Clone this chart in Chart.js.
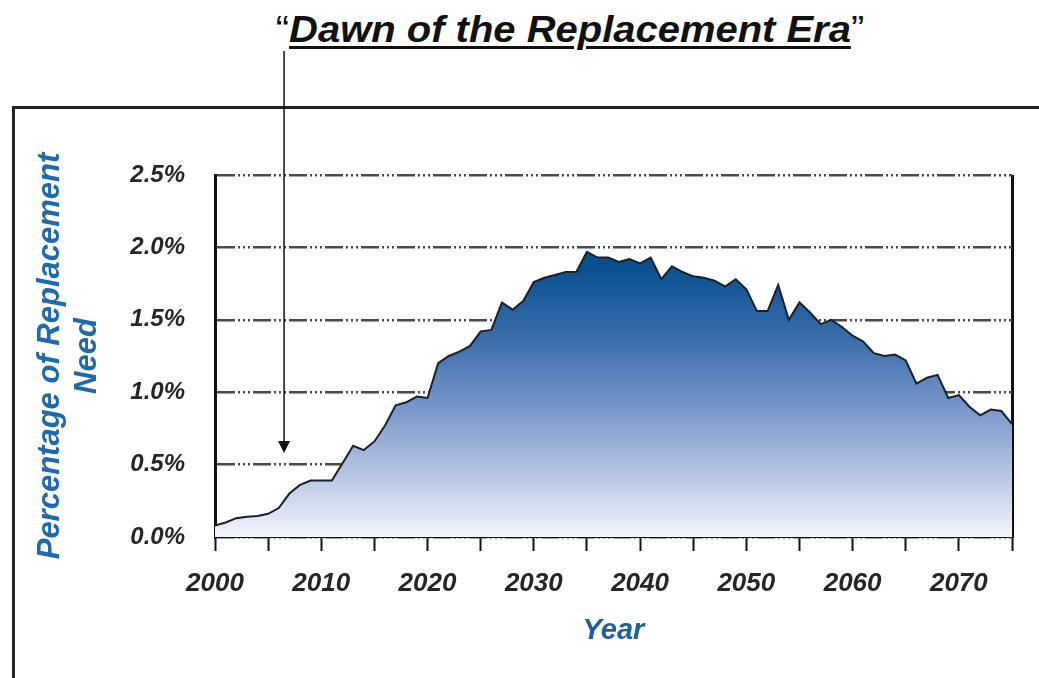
<!DOCTYPE html>
<html lang="en">
<head>
  <meta charset="UTF-8">
  <title>Dawn of the Replacement Era</title>
  <script src="https://cdn.jsdelivr.net/npm/chart.js"></script>
  <style>
    body {
      margin: 0;
      background: #ffffff;
      font-family: 'Liberation Sans', Arial, sans-serif;
    }
    .wrap {
      position: relative;
      width: 1039px;
      height: 678px;
      overflow: hidden;
    }
    .frame {
      position: absolute;
      left: 12px;
      top: 106px;
      width: 1100px;
      height: 700px;
      border-left: 3px solid #222;
      border-top: 3px solid #222;
    }
    .headline {
      position: absolute;
      top: 9px;
      left: 0;
      width: 1140px;
      text-align: center;
      font-size: 37px;
      font-style: italic;
      font-weight: bold;
      color: #111;
      transform: scaleX(1.08);
    }
    .headline u {
      text-decoration-thickness: 3px;
      text-underline-offset: 4px;
    }
    .headline .q {
      font-style: normal;
      font-weight: normal;
    }
    canvas {
      position: absolute;
      left: 0;
      top: 0;
    }
  </style>
</head>
<body>
  <div class="wrap">
    <div class="frame"></div>
    <div class="headline"><span class="q">“</span><u>Dawn of the Replacement Era</u><span class="q">”</span></div>
    <canvas id="replacement" width="1039" height="678"></canvas>
  </div>

  <script>
    const years = [
      2000, 2001, 2002, 2003, 2004, 2005, 2006, 2007, 2008, 2009,
      2010, 2011, 2012, 2013, 2014, 2015, 2016, 2017, 2018, 2019,
      2020, 2021, 2022, 2023, 2024, 2025, 2026, 2027, 2028, 2029,
      2030, 2031, 2032, 2033, 2034, 2035, 2036, 2037, 2038, 2039,
      2040, 2041, 2042, 2043, 2044, 2045, 2046, 2047, 2048, 2049,
      2050, 2051, 2052, 2053, 2054, 2055, 2056, 2057, 2058, 2059,
      2060, 2061, 2062, 2063, 2064, 2065, 2066, 2067, 2068, 2069,
      2070, 2071, 2072, 2073, 2074, 2075
    ];

    // percent of replacement need
    const need = [
      0.08, 0.10, 0.13, 0.14, 0.145, 0.16, 0.20, 0.30, 0.36, 0.39,
      0.39, 0.39, 0.51, 0.63, 0.60, 0.66, 0.77, 0.91, 0.93, 0.97,
      0.96, 1.20, 1.25, 1.28, 1.32, 1.42, 1.43, 1.62, 1.57, 1.63,
      1.76, 1.79, 1.81, 1.83, 1.83, 1.97, 1.93, 1.93, 1.90, 1.92,
      1.89, 1.93, 1.78, 1.87, 1.83, 1.80, 1.79, 1.77, 1.73, 1.78,
      1.71, 1.56, 1.56, 1.74, 1.50, 1.62, 1.55, 1.47, 1.50, 1.45,
      1.39, 1.35, 1.27, 1.25, 1.26, 1.22, 1.06, 1.10, 1.12, 0.96,
      0.98, 0.90, 0.84, 0.88, 0.87, 0.78
    ];

    const yTicks = [0, 0.5, 1.0, 1.5, 2.0, 2.5];
    const xLabelYears = [2000, 2010, 2020, 2030, 2040, 2050, 2060, 2070];

    // where the "Dawn" arrow points
    const arrowYear = 2006.5;
    const arrowValue = 0.58;

    const points = years.map((y, i) => ({ x: y, y: need[i] }));

    const arrowPlugin = {
      id: 'dawnArrow',
      afterDraw(chart) {
        const c = chart.ctx;
        const x = chart.scales.x.getPixelForValue(arrowYear);
        const yTip = chart.scales.y.getPixelForValue(arrowValue);
        c.save();
        c.strokeStyle = '#111';
        c.fillStyle = '#111';
        c.lineWidth = 1.5;
        c.beginPath();
        c.moveTo(x, 51);
        c.lineTo(x, yTip - 8);
        c.stroke();
        c.beginPath();
        c.moveTo(x - 6, yTip - 12);
        c.lineTo(x + 6, yTip - 12);
        c.lineTo(x, yTip);
        c.closePath();
        c.fill();
        c.restore();
      }
    };

    const fam = "'Liberation Sans', Arial, sans-serif";

    new Chart(document.getElementById('replacement'), {
      type: 'line',
      data: {
        datasets: [{
          data: points,
          borderColor: '#16202e',
          borderWidth: 2,
          pointRadius: 0,
          tension: 0,
          fill: 'origin',
          backgroundColor: (context) => {
            const { ctx, chartArea } = context.chart;
            if (!chartArea) return 'rgba(0,0,0,0)';
            const g = ctx.createLinearGradient(0, chartArea.top, 0, chartArea.bottom);
            g.addColorStop(0, '#013f7a');
            g.addColorStop(0.25, '#08508f');
            g.addColorStop(0.45, '#3a6cab');
            g.addColorStop(0.65, '#7c98ca');
            g.addColorStop(0.85, '#bfcbe6');
            g.addColorStop(1, '#f5f6fc');
            return g;
          }
        }]
      },
      options: {
        responsive: false,
        animation: false,
        layout: { padding: { left: 32, top: 175, right: 27, bottom: 30 } },
        plugins: {
          legend: { display: false },
          tooltip: { enabled: false }
        },
        scales: {
          x: {
            type: 'linear',
            min: 2000,
            max: 2075,
            z: 1,
            afterFit: (s) => { s.height = 111; },
            ticks: {
              stepSize: 5,
              autoSkip: false,
              maxRotation: 0,
              padding: 17,
              color: '#262626',
              font: { family: fam, size: 26, weight: 'bold', style: 'italic' },
              callback: (v) => xLabelYears.includes(v) ? String(v) : ''
            },
            grid: {
              drawOnChartArea: true,
              color: (ctx) => (ctx.tick && (ctx.tick.value === 2075 || ctx.tick.value === 2000)) ? '#111' : 'rgba(0,0,0,0)',
              lineWidth: 3,
              tickColor: '#111',
              tickWidth: 2,
              tickLength: 14
            },
            border: { display: true, color: '#111', width: 2 },
            title: {
              display: true,
              text: 'Year',
              color: '#1d5f9f',
              font: { family: fam, size: 29, weight: 'bold', style: 'italic' },
              padding: { top: 0, bottom: 0 }
            }
          },
          y: {
            min: 0,
            max: 2.5,
            afterFit: (s) => { s.width = 183; },
            afterBuildTicks: (s) => { s.ticks = yTicks.map(v => ({ value: v })); },
            ticks: {
              padding: 30,
              color: '#262626',
              font: { family: fam, size: 24, weight: 'bold', style: 'italic' },
              callback: (v) => v.toFixed(1) + '%'
            },
            grid: {
              color: '#4a4a4a',
              lineWidth: 2.5,
              drawTicks: false
            },
            border: { display: true, color: '#111', width: 3, dash: [18, 3, 2, 3, 2, 3, 2, 3] },
            title: {
              display: true,
              text: ['Percentage of Replacement', 'Need'],
              color: '#1f69ad',
              font: { family: fam, size: 31, weight: 'bold', style: 'italic', lineHeight: 1.2 },
              padding: { top: 0, bottom: 0 }
            }
          }
        }
      },
      plugins: [arrowPlugin]
    });
  </script>
</body>
</html>
